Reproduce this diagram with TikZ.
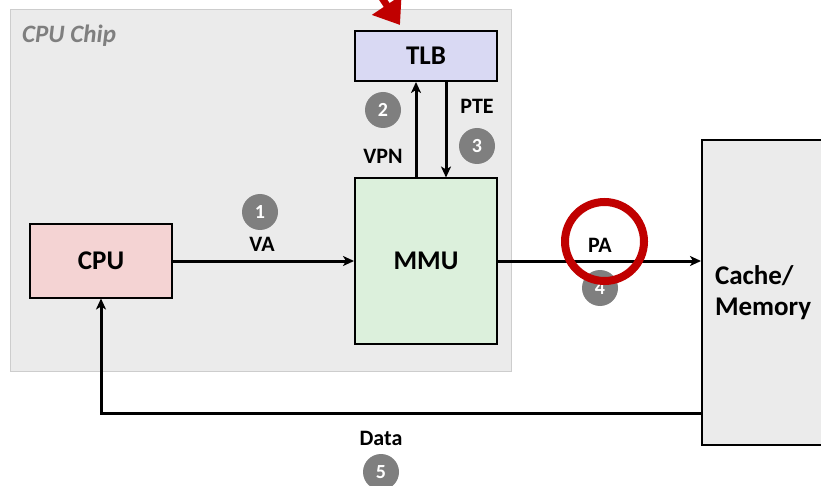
\documentclass[tikz,border=0pt]{standalone}
\usepackage{fontspec}
\setmainfont{Carlito}
\usetikzlibrary{arrows.meta}
\definecolor{chipgray}{RGB}{235,235,235}
\definecolor{chipline}{RGB}{205,205,205}
\definecolor{tlbblue}{RGB}{217,217,243}
\definecolor{mmugreen}{RGB}{220,240,220}
\definecolor{cpupink}{RGB}{244,211,211}
\definecolor{stepgray}{RGB}{127,127,127}
\definecolor{markred}{RGB}{192,0,0}
\tikzset{
  unit/.style={draw=black, line width=2pt, font=\fontsize{27}{31}\selectfont\bfseries},
  lbl/.style={font=\fontsize{22}{26}\selectfont\bfseries, inner sep=0pt},
  stepnum/.style={circle, fill=stepgray, text=white, minimum size=36pt, inner sep=0pt,
    font=\fontsize{20}{22}\selectfont\bfseries},
  arr/.style={line width=3pt, -{Stealth[length=11pt,width=10pt,inset=3pt]}},
}
\begin{document}
\begin{tikzpicture}[x=1pt,y=-1pt]
		\useasboundingbox (0,0) rectangle (821,486);
		\fill[white] (0,0) rectangle (821,486);
		
		% chip
		\draw[fill=chipgray, draw=chipline, line width=1pt] (10,10) rectangle (511,371);
		\node[anchor=base west, inner sep=0pt, text=stepgray,
		  font=\fontsize{25}{30}\selectfont\bfseries\itshape] (chip) at (22,43) {CPU Chip};
		
		% units
		\node[unit, fill=tlbblue, minimum width=142pt, minimum height=50pt] (tlb) at (426,56) {TLB};
		\node[unit, fill=mmugreen, minimum width=142pt, minimum height=165pt] (mmu) at (426,261) {MMU};
		\node[unit, fill=cpupink, minimum width=142pt, minimum height=73pt] (cpu) at (101,261) {CPU};
		\node[unit, fill=chipgray, minimum width=150pt, minimum height=305pt, text width=124pt,
		  align=left, inner xsep=13pt] (mem) at (777,292.5) {Cache/\\Memory};
		\coordinate (memout) at (702,413);
		
		% connectors
		\draw[arr] (cpu.east) -- (cpu.east -| mmu.west);
		\draw[arr] ([xshift=-10pt]mmu.north) -- ([xshift=-10pt]tlb.south);
		\draw[arr] ([xshift=20pt]tlb.south) -- ([xshift=20pt]mmu.north);
		\draw[arr] (mmu.east) -- (mmu.east -| mem.west);
		\draw[arr] (memout) -| (cpu.south);
		
		% labels
		\node[lbl] (va) at (262,244) {VA};
		\node[lbl] (vpn) at (383,156) {VPN};
		\node[lbl] (pte) at (477,106) {PTE};
		\node[lbl] (pa) at (600,245) {PA};
		\node[lbl] (data) at (381,438) {Data};
		
		% steps
		\node[stepnum] (s1) at (260,212) {1};
		\node[stepnum] (s2) at (383,110) {2};
		\node[stepnum] (s3) at (477,146) {3};
		\node[stepnum] (s4) at (600,288) {4};
		\node[stepnum] (s5) at (381,472) {5};
		
		% red marks
		\draw[markred, line width=8pt] (604.5,241.5) circle (39.5);
		\draw[markred, line width=7pt, -{Triangle[length=24pt,width=34pt]}] (360,-35) -- (400,25);
		\end{tikzpicture}
\end{document}
